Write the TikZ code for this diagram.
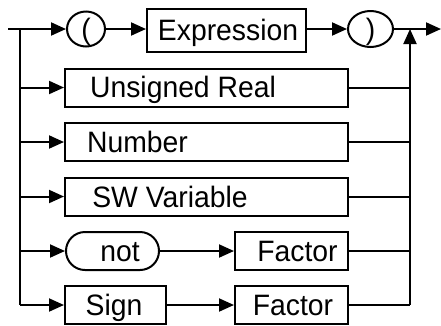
\documentclass[tikz,border=0pt]{standalone}
\usepackage{fontspec}
\newfontfamily\lbfont[FakeStretch=0.96]{Liberation Sans}
\usetikzlibrary{arrows.meta,shapes.geometric,shapes.misc}
\begin{document}
\begin{tikzpicture}[x=1pt,y=-1pt,
  line width=2pt,
  arr/.style={-{Triangle[length=15pt,width=13pt]}},
  box/.style={draw,rectangle,inner sep=0pt,minimum height=38pt},
  oval/.style={draw,ellipse,inner sep=0pt},
  pill/.style={draw,rounded rectangle,inner sep=0pt,minimum height=38pt},
  lbl/.style={inner sep=0pt,anchor=base,font=\lbfont\fontsize{29.5}{32}\selectfont}
]
\useasboundingbox (0,0) rectangle (441,325);
% coordinates
\coordinate (start) at (8,29);
\coordinate (lt) at (20,29);
\coordinate (lb) at (20,305);
\coordinate (rt) at (410,29);
\coordinate (rb) at (410,305);
\coordinate (end) at (441,29);
% row 1
\node[oval,minimum width=38pt,minimum height=35pt] (op) at (86,29) {};
\node[lbl] (opt) at (86,39.5) {(};
\node[box,minimum width=159pt,minimum height=43pt] (expr) at (226.5,30) {};
\node[lbl] (exprt) at (228,40.5) {Expression};
\node[oval,minimum width=45pt,minimum height=36pt] (cp) at (370.5,29) {};
\node[lbl] (cpt) at (370.5,39.5) {)};
% rows 2-4
\node[box,minimum width=283pt] (ur) at (206.5,87.5) {};
\node[lbl] (urt) at (183,97.5) {Unsigned Real};
\node[box,minimum width=283pt] (num) at (206.5,142) {};
\node[lbl] (numt) at (137.5,152.5) {Number};
\node[box,minimum width=283pt] (sw) at (206.5,196.5) {};
\node[lbl] (swt) at (170,207) {SW Variable};
% row 5
\node[pill,minimum width=93pt] (not) at (112.5,251) {};
\node[lbl] (nott) at (120,261.5) {not};
\node[box,minimum width=113pt] (f1) at (291.5,251) {};
\node[lbl] (f1t) at (297.5,261.5) {Factor};
% row 6
\node[box,minimum width=101pt] (sign) at (115.5,305) {};
\node[lbl] (signt) at (114,315.5) {Sign};
\node[box,minimum width=113pt] (f2) at (291.5,305) {};
\node[lbl] (f2t) at (293,315.5) {Factor};
% connectors
\draw[arr] (start) -- (op.west);
\draw[arr] (op.east) -- (expr.west |- op.west);
\draw[arr] (expr.east |- cp.west) -- (cp.west);
\draw[arr] (cp.east) -- (end);
\draw (lt) -- (lb);
\draw[arr] (lt |- ur) -- (ur.west);
\draw[arr] (lt |- num) -- (num.west);
\draw[arr] (lt |- sw) -- (sw.west);
\draw[arr] (lt |- not) -- (not.west);
\draw[arr] (lb) -- (sign.west);
\draw[arr] (not.east) -- (f1.west);
\draw[arr] (sign.east) -- (f2.west);
\draw (ur.east) -- (rt |- ur);
\draw (num.east) -- (rt |- num);
\draw (sw.east) -- (rt |- sw);
\draw (f1.east) -- (rt |- f1);
\draw (f2.east) -- (rb);
\draw[arr] (rb) -- (rt);
\end{tikzpicture}
\end{document}
